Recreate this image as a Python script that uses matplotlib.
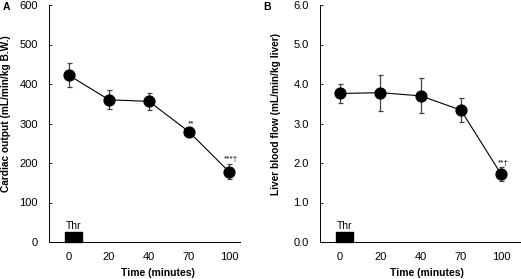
import matplotlib
matplotlib.use("Agg")
import matplotlib.pyplot as plt
from matplotlib.patches import Rectangle

plt.rcParams["font.family"] = ["Liberation Sans", "DejaVu Sans"]

# data
time_labels = ["0", "20", "40", "70", "100"]
co_mean = [422, 360, 356, 279, 178]
co_err = [30, 24, 21, 8, 19]
lbf_mean = [3.76, 3.78, 3.70, 3.34, 1.72]
lbf_err = [0.23, 0.46, 0.44, 0.30, 0.18]
co_marks = {3: "**", 4: "***\u2020"}
lbf_marks = {4: "**\u2020"}

W, H = 521, 279
fig = plt.figure(figsize=(W / 100, H / 100), dpi=100)


def panel(rect, mean, err, marks, ymax, ystep, fmt, ylabel, xlim_right,
          xlabel_x, ylabel_x, mark_off):
    ax = fig.add_axes(rect)
    x = list(range(len(mean)))
    ax.errorbar(x, mean, yerr=err, fmt="none", ecolor="#444444", elinewidth=0.9,
                capsize=1.8, capthick=0.9, zorder=2)
    ax.plot(x, mean, color="black", linewidth=0.8, marker="o", markersize=7.8,
            zorder=3)
    for i, s in marks.items():
        ax.text(i + 0.05, mean[i] + err[i] + mark_off, s, ha="center", va="bottom",
                fontsize=6)
    # Thr bar
    bar_h = ymax * 0.042
    ax.add_patch(Rectangle((-0.1, 0), 0.43, bar_h, color="black", zorder=3,
                           clip_on=False))
    ax.text(0.11, bar_h * 1.15, "Thr", ha="center", va="bottom", fontsize=7.5)
    ax.set_xlim(-0.5, xlim_right)
    ax.set_ylim(0, ymax)
    ax.set_xticks(x)
    ax.set_xticklabels(time_labels, fontsize=8)
    ticks = [ystep * k for k in range(int(round(ymax / ystep)) + 1)]
    ax.set_yticks(ticks)
    ax.set_yticklabels([fmt.format(t) for t in ticks], fontsize=8)
    ax.tick_params(axis="x", length=0, pad=7)
    ax.tick_params(axis="y", direction="in", length=2.5, width=0.6, pad=8)
    for sp in ("top", "right"):
        ax.spines[sp].set_visible(False)
    for sp in ("left", "bottom"):
        ax.spines[sp].set_linewidth(0.7)
    ax.set_ylabel(ylabel, fontsize=7.3, fontweight="bold", va="center")
    ax.yaxis.set_label_coords(ylabel_x, 0.542)
    ax.set_xlabel("Time (minutes)", fontsize=7.5, fontweight="bold", va="center")
    ax.xaxis.set_label_coords(xlabel_x, -0.13)
    return ax


axA = panel([49 / W, 1 - 242 / H, 191 / W, 237 / H], co_mean, co_err, co_marks,
            600, 100, "{:.0f}", "Cardiac output (mL/min/kg B.W.)", 4.275,
            0.57, -(49 - 6) / 191, 4)
axB = panel([320 / W, 1 - 242 / H, 200 / W, 237 / H], lbf_mean, lbf_err, lbf_marks,
            6.0, 1.0, "{:.1f}", "Liver blood flow (mL/min/kg liver)", 4.47,
            0.535, -(320 - 276) / 200, 0.0)

fig.text(3 / W, 1 - 7 / H, "A", fontsize=7.5, fontweight="bold", va="center")
fig.text(263 / W, 1 - 7 / H, "B", fontsize=7.5, fontweight="bold", va="center")

fig.savefig("out.png", dpi=100, facecolor="white")
